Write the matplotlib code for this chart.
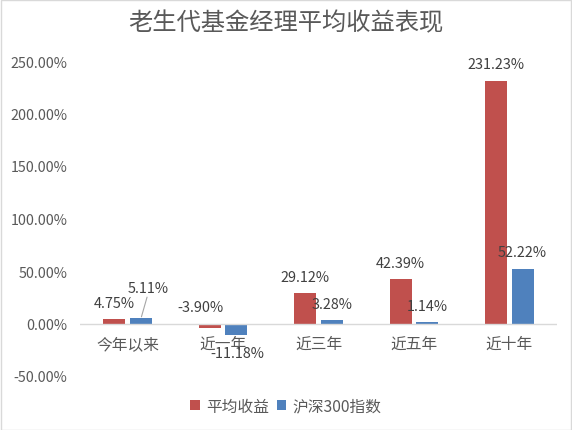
import numpy as np
import matplotlib
matplotlib.use("Agg")
from matplotlib import pyplot as plt
from matplotlib.patches import Rectangle

plt.rcParams['font.family'] = ['Noto Sans CJK SC', 'DejaVu Sans']

title = "老生代基金经理平均收益表现"
categories = ["今年以来", "近一年", "近三年", "近五年", "近十年"]
series_names = ["平均收益", "沪深300指数"]
avg_return = [4.75, -3.90, 29.12, 42.39, 231.23]
hs300 = [5.11, -11.18, 3.28, 1.14, 52.22]
yticks = [-50, 0, 50, 100, 150, 200, 250]

red = "#C0504D"
blue = "#4F81BD"
gray = "#595959"

# label offsets in pixels (dx, dy) from the bar end, Excel moved a few of them
red_offsets = [(0, 16), (-9, 16), (0, 16), (0, 16), (0, 17)]
blue_offsets = [(7, 30), (1, -18), (0, 16), (0, 16), (0, 17)]

fig = plt.figure(figsize=(5.72, 4.31), dpi=100)
fig.patches.append(Rectangle((0.001, 0.001), 0.997, 0.997, transform=fig.transFigure,
                             fill=False, edgecolor="#D9D9D9", linewidth=1))
ax = fig.add_axes([80 / 572, 54 / 431, 477 / 572, 315 / 431])

x = np.arange(len(categories))
w = 0.23
off = 0.14
ax.bar(x - off, avg_return, w, color=red, label=series_names[0])
ax.bar(x + off, hs300, w, color=blue, label=series_names[1])

ax.set_xlim(-0.5, len(categories) - 0.5)
ax.set_ylim(-50, 250)
ax.axhline(0, color="#D9D9D9", linewidth=1)
for s in ax.spines.values():
    s.set_visible(False)
ax.set_yticks(yticks)
ax.set_yticklabels([f"{v:.2f}%" for v in yticks], color=gray, fontsize=10.3)
ax.tick_params(axis="y", length=0, pad=9)
ax.set_xticks([])

for i, c in enumerate(categories):
    ax.annotate(c, (i, 0), xytext=(0, -20), textcoords="offset pixels",
                ha="center", va="center", fontsize=11.3, color=gray)

def put_labels(xs, vals, offs):
    for xi, v, (dx, dy) in zip(xs, vals, offs):
        base = max(v, 0) if dy > 0 else v
        ax.annotate(f"{v:.2f}%", (xi, base), xytext=(dx, dy), textcoords="offset pixels",
                    ha="center", va="center", fontsize=10.4, color="#404040")

put_labels(x - off, avg_return, red_offsets)
put_labels(x + off, hs300, blue_offsets)

# leader line for the moved 5.11% label
ax.annotate("", (x[0] + off, hs300[0]), xytext=(blue_offsets[0][0] - 1, blue_offsets[0][1] - 9),
            textcoords="offset pixels",
            arrowprops=dict(arrowstyle="-", color="#A6A6A6", lw=0.8, shrinkA=0, shrinkB=1))

fig.text(0.5, 1 - 23 / 431, title, ha="center", va="center", fontsize=17.5, color=gray)

fig.legend(loc="center", bbox_to_anchor=(0.5, 1 - 407 / 431), ncol=2, frameon=False,
           fontsize=11.3, handlelength=0.6, handleheight=0.6, handletextpad=0.4,
           columnspacing=0.5, labelcolor=gray)

fig.savefig("out.png", dpi=100)
